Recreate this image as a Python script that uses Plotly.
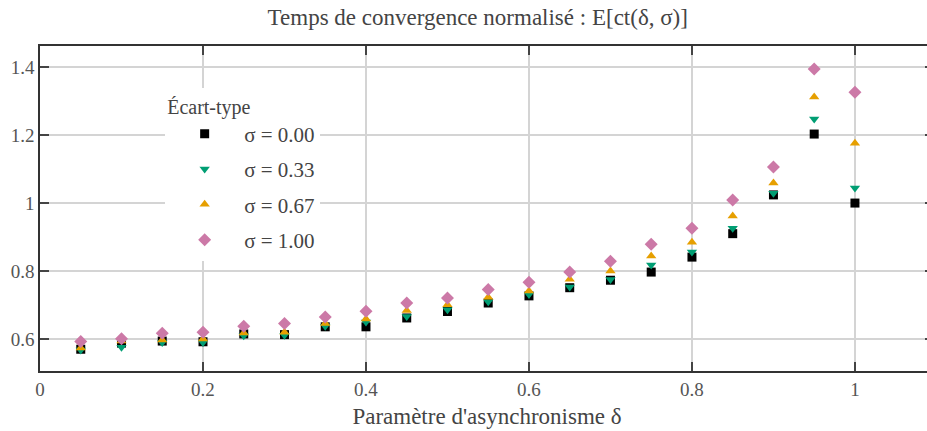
import plotly.graph_objects as go

delta = [0.05, 0.10, 0.15, 0.20, 0.25, 0.30, 0.35, 0.40, 0.45, 0.50,
         0.55, 0.60, 0.65, 0.70, 0.75, 0.80, 0.85, 0.90, 0.95, 1.00]

sigma_000 = [0.570, 0.588, 0.594, 0.592, 0.615, 0.613, 0.636, 0.636, 0.662, 0.681,
             0.706, 0.727, 0.751, 0.773, 0.797, 0.841, 0.910, 1.024, 1.203, 1.000]
sigma_033 = [0.568, 0.576, 0.590, 0.590, 0.610, 0.611, 0.638, 0.650, 0.666, 0.686,
             0.710, 0.731, 0.753, 0.775, 0.818, 0.856, 0.926, 1.029, 1.247, 1.044]
sigma_067 = [0.574, 0.594, 0.597, 0.600, 0.618, 0.620, 0.646, 0.659, 0.684, 0.701,
             0.723, 0.741, 0.776, 0.800, 0.844, 0.885, 0.962, 1.059, 1.312, 1.176]
sigma_100 = [0.593, 0.601, 0.617, 0.620, 0.638, 0.646, 0.665, 0.682, 0.706, 0.721,
             0.746, 0.767, 0.797, 0.829, 0.879, 0.926, 1.009, 1.106, 1.394, 1.326]

names = ["σ = 0.00", "σ = 0.33", "σ = 0.67", "σ = 1.00"]
series = [sigma_000, sigma_033, sigma_067, sigma_100]
colors = ["#000000", "#009E73", "#E69F00", "#CC79A7"]
symbols = ["square", "triangle-down", "triangle-up", "diamond"]
sizes = [9, 9, 9, 10]

FONT = "Liberation Serif"

fig = go.Figure()
for i, (n, ys) in enumerate(zip(names, series)):
    fig.add_trace(go.Scatter(
        x=delta, y=ys, mode="markers", name=n, legendgroup=f"g{i}",
        marker=dict(symbol=symbols[i], color=colors[i], size=sizes[i], line=dict(width=0)),
    ))

axis_common = dict(
    showline=True, linecolor="#333333", linewidth=1.5, mirror="ticks",
    ticks="inside", ticklen=9, tickwidth=2, tickcolor="#444444",
    showgrid=True, gridcolor="#d4d4d4", gridwidth=2,
    zeroline=False, automargin=False,
    tickfont=dict(family=FONT, size=19, color="#555555"),
)

fig.update_layout(
    width=935, height=431,
    margin=dict(l=40, r=1, t=46, b=60, autoexpand=False),
    paper_bgcolor="white", plot_bgcolor="white",
    font=dict(family=FONT, color="#444444"),
    title=dict(text="Temps de convergence normalisé : E[ct(δ, σ)]",
               x=0.511, xanchor="center", y=0.9606, yanchor="middle",
               font=dict(family=FONT, size=23, color="#444444")),
    xaxis=dict(range=[0, 1.097], tickvals=[0, 0.2, 0.4, 0.6, 0.8, 1.0],
               ticktext=["0", "0.2", "0.4", "0.6", "0.8", "1"],
               title=dict(text="Paramètre d'asynchronisme δ", standoff=9,
                          font=dict(family=FONT, size=23, color="#444444")),
               **axis_common),
    yaxis=dict(range=[0.506, 1.462], tickvals=[0.6, 0.8, 1.0, 1.2, 1.4],
               ticktext=["0.6", "0.8", "1", "1.2", "1.4"],
               **axis_common),
    legend=dict(
        title=dict(text="Écart-type", font=dict(family=FONT, size=20, color="#444444")),
        x=0.14, xanchor="left", y=0.872, yanchor="top",
        bgcolor="white", borderwidth=0,
        font=dict(family=FONT, size=21, color="#444444"),
        tracegroupgap=5, itemwidth=69,
    ),
)

fig.write_html("out.html", config={"displayModeBar": False},
               post_script="document.body.style.margin='0';document.body.style.overflow='hidden';")
